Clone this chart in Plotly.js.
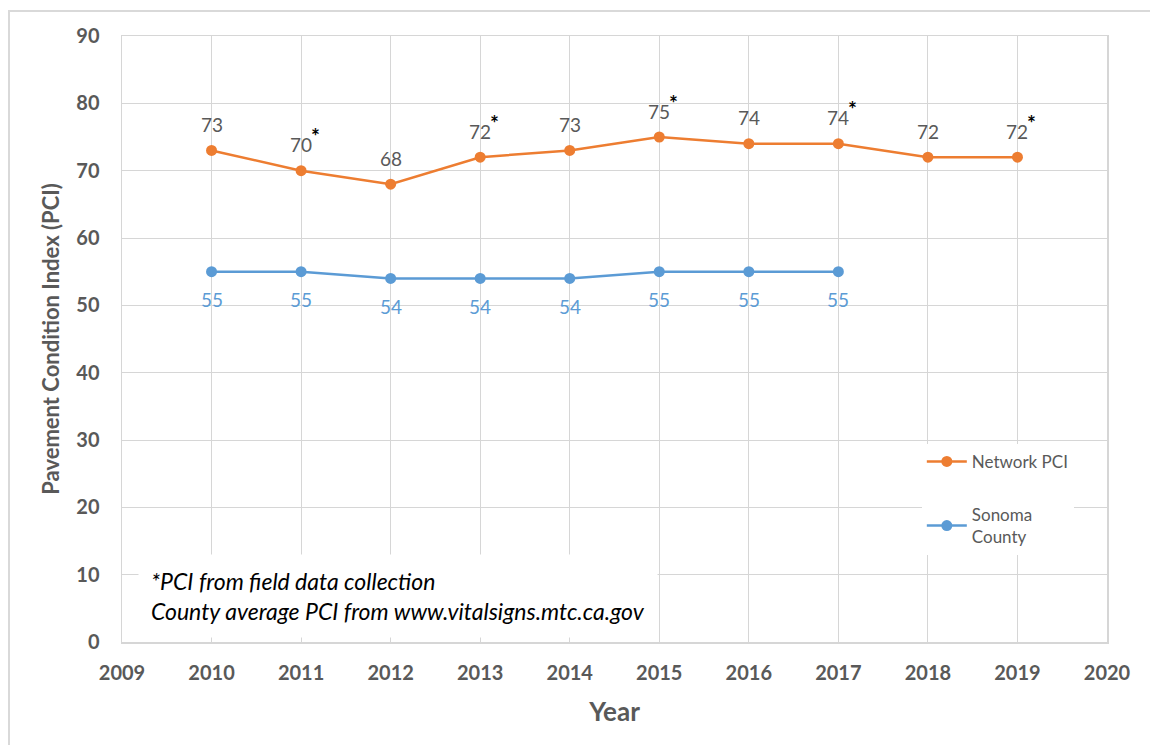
<!DOCTYPE html>
<html>
<head>
<meta charset="utf-8">
<script src="https://cdn.plot.ly/plotly-3.0.1.min.js"></script>
<style>
  html, body { margin: 0; padding: 0; background: #ffffff; }
  #frame { position: absolute; left: 8px; top: 10px; width: 1160px; height: 760px;
           border-left: 2px solid #d9d9d9; border-top: 2px solid #d9d9d9; box-sizing: border-box; }
  #chart { position: absolute; left: 0; top: 0; width: 1150px; height: 745px; }
</style>
</head>
<body>
<div id="frame"></div>
<div id="chart"></div>
<script>
// ---- data ----
const networkYears = [2010, 2011, 2012, 2013, 2014, 2015, 2016, 2017, 2018, 2019];
const networkPCI   = [73, 70, 68, 72, 73, 75, 74, 74, 72, 72];
const fieldCollected = [false, true, false, true, false, true, false, true, false, true];

const sonomaYears = [2010, 2011, 2012, 2013, 2014, 2015, 2016, 2017];
const sonomaPCI   = [55, 55, 54, 54, 54, 55, 55, 55];

const xTickVals = [2009, 2010, 2011, 2012, 2013, 2014, 2015, 2016, 2017, 2018, 2019, 2020];
const yTickVals = [0, 10, 20, 30, 40, 50, 60, 70, 80, 90];

const seriesNames = ['Network PCI', 'Sonoma<br>County'];
const noteLines = ['*PCI from field data collection', 'County average PCI from www.vitalsigns.mtc.ca.gov'];
const xTitle = 'Year';
const yTitle = 'Pavement Condition Index (PCI)';

// ---- styling ----
const ORANGE = '#ED7D31';
const BLUE = '#5B9BD5';
const GRAY = '#595959';
const GRID = '#d6d6d6';
const FONT = 'Lato, "Open Sans", sans-serif';

const traces = [
  {
    x: networkYears, y: networkPCI, name: seriesNames[0],
    type: 'scatter', mode: 'lines+markers',
    line: { color: ORANGE, width: 2.5 },
    marker: { color: ORANGE, size: 11 },
    legendgroup: 'a', cliponaxis: false
  },
  {
    x: sonomaYears, y: sonomaPCI, name: seriesNames[1],
    type: 'scatter', mode: 'lines+markers',
    line: { color: BLUE, width: 2.5 },
    marker: { color: BLUE, size: 11 },
    legendgroup: 'b', cliponaxis: false
  }
];

// data labels, placed through the data coordinates
const labelAnns = [];
networkYears.forEach((yr, i) => {
  labelAnns.push({
    x: yr, y: networkPCI[i], xref: 'x', yref: 'y', yshift: 26,
    text: String(networkPCI[i]), showarrow: false,
    font: { family: FONT, size: 19, color: GRAY }
  });
  if (fieldCollected[i]) {
    labelAnns.push({
      x: yr, y: networkPCI[i], xref: 'x', yref: 'y', yshift: 35, xshift: 14,
      text: '<b>*</b>', showarrow: false,
      font: { family: FONT, size: 21, color: '#000000' }
    });
  }
});
sonomaYears.forEach((yr, i) => {
  labelAnns.push({
    x: yr, y: sonomaPCI[i], xref: 'x', yref: 'y', yshift: -28,
    text: String(sonomaPCI[i]), showarrow: false,
    font: { family: FONT, size: 19, color: BLUE }
  });
});

const layout = {
  width: 1150, height: 745,
  margin: { l: 122, r: 43, t: 36, b: 103 },
  paper_bgcolor: 'rgba(0,0,0,0)',
  plot_bgcolor: '#ffffff',
  font: { family: FONT, color: GRAY },
  showlegend: true,
  legend: {
    x: 0.812, y: 0.327, xanchor: 'left', yanchor: 'top',
    bgcolor: '#ffffff', borderwidth: 0,
    font: { family: FONT, size: 17, color: GRAY },
    tracegroupgap: 28, traceorder: 'grouped',
    itemwidth: 40
  },
  xaxis: {
    range: [2009, 2020], tickvals: xTickVals, ticktext: xTickVals.map(String),
    showgrid: true, gridcolor: GRID, gridwidth: 1,
    showline: true, linecolor: GRID, linewidth: 1.5, mirror: true,
    zeroline: false, ticks: '', ticklabelstandoff: 12,
    tickfont: { family: FONT, size: 20, color: GRAY, weight: 'bold' },
    title: { text: xTitle, font: { family: FONT, size: 26, color: GRAY, weight: 'bold' }, standoff: 20 }
  },
  yaxis: {
    range: [0, 90], tickvals: yTickVals,
    showgrid: true, gridcolor: GRID, gridwidth: 1,
    showline: true, linecolor: GRID, linewidth: 1.5, mirror: true,
    zeroline: false, ticks: '', ticklabelstandoff: 17,
    tickfont: { family: FONT, size: 20, color: GRAY, weight: 'bold' },
    title: { text: yTitle, font: { family: FONT, size: 22, color: GRAY, weight: 'bold' }, standoff: 10 }
  },
  annotations: labelAnns.concat([
    {
      xref: 'paper', yref: 'paper', x: 0.016, y: 0.007,
      xanchor: 'left', yanchor: 'bottom', align: 'left',
      text: '<i>' + noteLines.join('<br>') + '</i>',
      showarrow: false, bgcolor: '#ffffff', borderpad: 12,
      font: { family: FONT, size: 23, color: '#000000' }
    }
  ])
};

Plotly.newPlot('chart', traces, layout, { displayModeBar: false, staticPlot: true });
</script>
</body>
</html>
